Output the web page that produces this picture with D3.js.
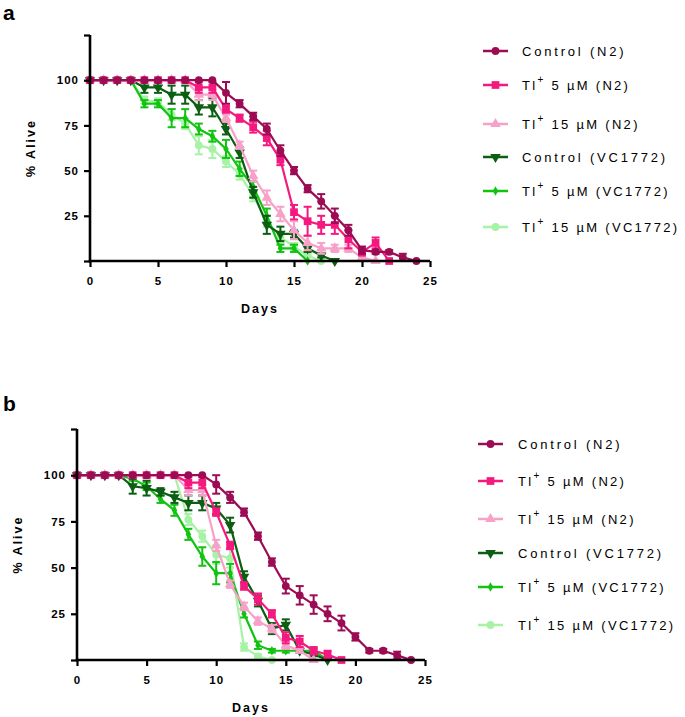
<!DOCTYPE html>
<html>
<head>
<meta charset="utf-8">
<script src="https://cdn.jsdelivr.net/npm/d3@7"></script>
<style>
  body { margin: 0; background: #fff; }
  svg { font-family: "Liberation Sans", Arial, sans-serif; }
</style>
</head>
<body>
<div id="chart"></div>
<script>
// series info (order = legend order)
const seriesNames = ["Control (N2)", "5 µM (N2)", "15 µM (N2)", "Control (VC1772)", "5 µM (VC1772)", "15 µM (VC1772)"];
const seriesTl = [false, true, true, false, true, true];
const seriesColors = ["#9b0c55", "#f5197f", "#f7a1c9", "#0b5e12", "#12c312", "#a6f3a6"];
const seriesShapes = ["circle", "square", "triangle", "down", "diamond", "circle"];

const xTicks = [0, 5, 10, 15, 20, 25];
const yTicks = [0, 25, 50, 75, 100, 125];

// panel a : % alive per day (day 0 onwards) and SEM
const ctrlN2_a = [100,100,100,100,100,100,100,100,100,100,93,87,80,73,61,50,40,33,25,17,6,5,5,2,0];
const ctrlN2_a_err = [0,0,0,0,0,0,0,0,0,0,6,2,2,3,3,2,2,4,4,3,2,1,1,2,0];
const tl5N2_a = [100,100,100,100,100,100,100,100,96,96,84,79,74,68,56,27,22,20,20,12,5,10,0];
const tl5N2_a_err = [0,0,0,0,0,0,0,0,3,3,2,2,3,4,3,4,8,5,5,5,2,3,0];
const tl15N2_a = [100,100,100,100,100,100,100,100,92,92,79,64,47,35,26,17,10,7,7,7,2,0];
const tl15N2_a_err = [0,0,0,0,0,0,0,0,3,3,2,2,3,4,4,5,4,3,2,2,1,0];
const ctrlVC_a = [100,100,100,100,96,96,92,92,85,85,73,60,38,20,15,15,7,3,0];
const ctrlVC_a_err = [0,0,0,0,3,3,5,5,4,5,3,3,3,5,4,2,2,1,0];
const tl5VC_a = [100,100,100,100,87,87,79,79,73,69,62,51,41,25,7,7,0];
const tl5VC_a_err = [0,0,0,0,2,2,5,5,3,3,5,4,3,4,2,2,0];
const tl15VC_a = [100,100,100,100,89,88,81,76,64,62,55,48,36,22,13,8,3,0];
const tl15VC_a_err = [0,0,0,0,2,2,3,3,5,5,3,3,3,3,3,2,1,0];

// panel b
const ctrlN2_b = [100,100,100,100,100,100,100,100,100,100,95,88,80,67,53,40,35,30,25,20,12.5,5,5,2.5,0];
const ctrlN2_b_err = [0,0,0,0,0,0,0,0,0,0,5,3,2,2,2,4,5,5,4,4,2,1,1,2,0];
const tl5N2_b = [100,100,100,100,100,100,100,100,96,96,80,62,40,33,25,12,10,5,3,0];
const tl5N2_b_err = [0,0,0,0,0,0,0,0,3,3,2,2,2,3,2,3,3,2,2,0];
const tl15N2_b = [100,100,100,100,100,100,100,100,92,92,62,41,29,21,17,8,5,0];
const tl15N2_b_err = [0,0,0,0,0,0,0,0,3,3,3,2,2,2,2,2,1,0];
const ctrlVC_b = [100,100,100,100,94,93,91,88,85,85,82,73,45,32,17,19,5,3,0];
const ctrlVC_b_err = [0,0,0,0,4,4,2,3,4,4,3,4,3,3,3,3,1,1,0];
const tl5VC_b = [100,100,100,100,98,94,87,81,68,56,47,47,25,8,5,5,5,5,0];
const tl5VC_b_err = [0,0,0,0,1,2,2,3,3,5,6,5,2,2,1,1,1,1,0];
const tl15VC_b = [100,100,100,100,100,100,100,100,76,67,57,55,7,2,0];
const tl15VC_b_err = [0,0,0,0,0,0,0,0,3,3,5,5,2,1,0];

const panels = [
    {
        letter: "a", letterY: 20,
        values: [ctrlN2_a, tl5N2_a, tl15N2_a, ctrlVC_a, tl5VC_a, tl15VC_a],
        errs: [ctrlN2_a_err, tl5N2_a_err, tl15N2_a_err, ctrlVC_a_err, tl5VC_a_err, tl15VC_a_err],
        x0: 90, x1: 430, y0: 261, y1: 35, ylabX: 31,
        legX: 483, legTextX: 522, legY: [51, 85, 124, 157, 191, 227]
    },
    {
        letter: "b", letterY: 411,
        values: [ctrlN2_b, tl5N2_b, tl15N2_b, ctrlVC_b, tl5VC_b, tl15VC_b],
        errs: [ctrlN2_b_err, tl5N2_b_err, tl15N2_b_err, ctrlVC_b_err, tl5VC_b_err, tl15VC_b_err],
        x0: 77, x1: 425, y0: 660, y1: 429, ylabX: 18,
        legX: 478, legTextX: 518, legY: [444, 481, 519, 553, 587, 625]
    }
];

const svg = d3.select("#chart").append("svg")
    .attr("width", 685)
    .attr("height", 717);

function symbolFor(shape) {
    switch (shape) {
        case "circle": return d3.symbol().type(d3.symbolCircle).size(48)();
        case "square": return d3.symbol().type(d3.symbolSquare).size(60)();
        case "triangle": return d3.symbol().type(d3.symbolTriangle).size(48)();
        case "down": return d3.symbol().type(d3.symbolTriangle).size(48)();
        case "diamond": return d3.symbol().type(d3.symbolDiamond).size(26)();
    }
}

function markerTransform(shape, x, y) {
    if (shape == "down") return "translate(" + x + "," + y + ") rotate(180)";
    return "translate(" + x + "," + y + ")";
}

panels.forEach(function(p) {
    let x = d3.scaleLinear().domain([0, 25]).range([p.x0, p.x1]);
    let y = d3.scaleLinear().domain([0, 125]).range([p.y0, p.y1]);
    let g = svg.append("g");

    g.append("text")
        .attr("x", 3)
        .attr("y", p.letterY)
        .attr("font-size", 21)
        .attr("font-weight", "bold")
        .text(p.letter);

    // series, last one at the back
    for (let s = seriesNames.length - 1; s >= 0; s--) {
        let pts = p.values[s].map(function(v, i) { return {day: i, v: v, e: p.errs[s][i]}; });
        let col = seriesColors[s];
        let sg = g.append("g");

        let line = d3.line().x(function(d) { return x(d.day); }).y(function(d) { return y(d.v); });
        sg.append("path")
            .datum(pts)
            .attr("fill", "none")
            .attr("stroke", col)
            .attr("stroke-width", 2.2)
            .attr("d", line);

        let eb = sg.selectAll(".err")
            .data(pts.filter(function(d) { return d.e > 0; }))
            .enter().append("g");
        eb.append("line")
            .attr("x1", function(d) { return x(d.day); })
            .attr("x2", function(d) { return x(d.day); })
            .attr("y1", function(d) { return y(d.v - d.e); })
            .attr("y2", function(d) { return y(d.v + d.e); })
            .attr("stroke", col).attr("stroke-width", 2);
        [-1, 1].forEach(function(sign) {
            eb.append("line")
                .attr("x1", function(d) { return x(d.day) - 4; })
                .attr("x2", function(d) { return x(d.day) + 4; })
                .attr("y1", function(d) { return y(d.v + sign * d.e); })
                .attr("y2", function(d) { return y(d.v + sign * d.e); })
                .attr("stroke", col).attr("stroke-width", 2);
        });

        sg.selectAll(".pt")
            .data(pts)
            .enter().append("path")
            .attr("d", symbolFor(seriesShapes[s]))
            .attr("transform", function(d) { return markerTransform(seriesShapes[s], x(d.day), y(d.v)); })
            .attr("fill", col);
    }

    // axes
    let xAxis = g.append("g")
        .attr("transform", "translate(0," + p.y0 + ")")
        .call(d3.axisBottom(x).tickValues(xTicks).tickSize(6).tickPadding(10).tickSizeOuter(0));
    let yAxis = g.append("g")
        .attr("transform", "translate(" + p.x0 + ",0)")
        .call(d3.axisLeft(y).tickValues(yTicks).tickSize(6).tickPadding(5).tickSizeOuter(0)
            .tickFormat(function(d) { return (d > 0 && d < 125) ? d : ""; }));
    [xAxis, yAxis].forEach(function(a) {
        a.select(".domain").attr("stroke", "#000").attr("stroke-width", 2.6);
        a.selectAll(".tick line").attr("stroke", "#000").attr("stroke-width", 2.2);
        a.selectAll(".tick text")
            .attr("fill", "#000")
            .attr("font-size", 11.5)
            .attr("font-weight", "bold")
            .attr("font-family", "Liberation Sans, Arial, sans-serif")
            .style("letter-spacing", "1px");
    });
    // extend axes to meet at the corner
    yAxis.select(".domain").attr("d", "M0," + (p.y0 + 1.3) + "V" + p.y1);
    xAxis.select(".domain").attr("d", "M" + (p.x0 - 1.3) + ",0H" + p.x1);

    g.append("text")
        .attr("x", (p.x0 + p.x1) / 2)
        .attr("y", p.y0 + 52)
        .attr("text-anchor", "middle")
        .attr("font-size", 12.5)
        .attr("font-weight", "bold")
        .style("letter-spacing", "2px")
        .text("Days");

    g.append("text")
        .attr("transform", "translate(" + (p.ylabX + 4) + "," + ((p.y0 + p.y1) / 2) + ") rotate(-90)")
        .attr("text-anchor", "middle")
        .attr("font-size", 12.5)
        .attr("font-weight", "bold")
        .style("letter-spacing", "2px")
        .text("% Alive");

    // legend
    seriesNames.forEach(function(name, s) {
        let ly = p.legY[s];
        let col = seriesColors[s];
        g.append("line")
            .attr("x1", p.legX).attr("x2", p.legX + 25)
            .attr("y1", ly).attr("y2", ly)
            .attr("stroke", col).attr("stroke-width", 2.5);
        g.append("path")
            .attr("d", symbolFor(seriesShapes[s]))
            .attr("transform", markerTransform(seriesShapes[s], p.legX + 12.5, ly))
            .attr("fill", col);
        let t = g.append("text")
            .attr("x", p.legTextX)
            .attr("y", ly + 5)
            .attr("font-size", 13)
            .style("letter-spacing", seriesTl[s] ? "2.3px" : "2.8px");
        if (seriesTl[s]) {
            t.append("tspan").text("Tl");
            t.append("tspan").attr("dy", -7).attr("font-size", 10).text("+");
            t.append("tspan").attr("dy", 7).text(" " + name);
        } else {
            t.text(name);
        }
    });
});
</script>
</body>
</html>
